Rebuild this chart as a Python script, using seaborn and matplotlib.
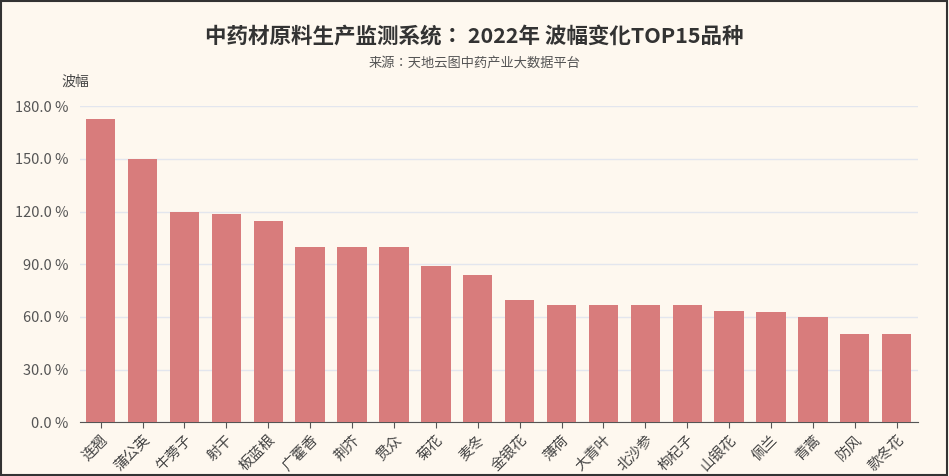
import matplotlib.pyplot as plt
import matplotlib.patches as mpatches
from matplotlib import font_manager
import pandas as pd
import seaborn as sns

# register installed CJK sans fonts explicitly
cjk = [f for f in font_manager.findSystemFonts() if "cjk" in f.lower() and "serif" not in f.lower()]
names = []
for f in cjk:
    try:
        font_manager.fontManager.addfont(f)
        n = font_manager.FontProperties(fname=f).get_name()
        if "Serif" not in n:
            names.append(n)
    except Exception:
        pass
pref = [n for n in names if n.endswith("SC")] + names + ["DejaVu Sans"]
plt.rcParams["font.family"] = "sans-serif"
plt.rcParams["font.sans-serif"] = pref
plt.rcParams["axes.unicode_minus"] = False

herbs = ["连翘", "蒲公英", "牛蒡子", "射干", "板蓝根", "广藿香", "荆芥", "贯众", "菊花", "麦冬",
         "金银花", "薄荷", "大青叶", "北沙参", "枸杞子", "山银花", "佩兰", "青蒿", "防风", "款冬花"]
amplitude = [172.5, 150.0, 120.0, 118.5, 114.5, 100.0, 100.0, 100.0, 89.0, 84.0,
             69.5, 66.7, 66.7, 66.7, 66.7, 63.3, 62.5, 60.0, 50.0, 50.0]
yticks = [0, 30, 60, 90, 120, 150, 180]

df = pd.DataFrame({"herb": herbs, "amp": amplitude})
bg = "#FEF8EF"

fig = plt.figure(figsize=(9.49, 4.76), dpi=100, facecolor=bg)
fig.patches.append(mpatches.Rectangle((0.001, 0.002), 0.997, 0.995, transform=fig.transFigure,
                                      fill=False, edgecolor="#333333", linewidth=1.5))
ax = fig.add_axes([0.084, 0.113, 0.883, 0.664], facecolor=bg)
sns.barplot(data=df, x="herb", y="amp", color="#D87C7C", saturation=1, width=0.7, ax=ax, zorder=3)

ax.set_ylim(0, 180)
ax.set_yticks(yticks)
ax.set_yticklabels([f"{v:.1f} %" for v in yticks], fontsize=10.5, color="#555555")
ax.yaxis.grid(True, color="#E3E6EE", linewidth=1)
ax.tick_params(axis="y", length=0, pad=8)
ax.tick_params(axis="x", length=4, color="#555555")
plt.setp(ax.get_xticklabels(), rotation=45, ha="right", rotation_mode="anchor", fontsize=10.5, color="#444444")
ax.set_xlabel("")
ax.set_ylabel("")
for s in ["top", "right", "left"]:
    ax.spines[s].set_visible(False)
ax.spines["bottom"].set_color("#555555")

fig.text(0.5, 0.925, "中药材原料生产监测系统： 2022年 波幅变化TOP15品种", ha="center", va="center",
         fontsize=15.5, fontweight="bold", color="#333333")
fig.text(0.5, 0.868, "来源：天地云图中药产业大数据平台", ha="center", va="center", fontsize=9.5, color="#555555")
fig.text(0.065, 0.828, "波幅", ha="left", va="center", fontsize=10, color="#444444")

fig.savefig("out.png", dpi=100, facecolor=bg)
